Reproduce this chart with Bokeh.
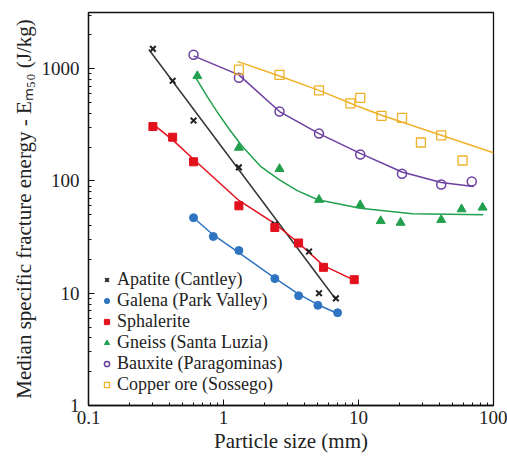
from bokeh.plotting import figure
from bokeh.models import Legend, LegendItem, FixedTicker, CustomJSTickFormatter
from bokeh.embed import file_html
from bokeh.resources import INLINE

# ---------------- data ----------------
apatite_x = [0.3, 0.42, 0.6, 1.3, 2.4, 4.3, 5.1, 6.8]
apatite_y = [1500, 780, 345, 132, 41, 23.5, 10, 9]
apatite_fit_x = [0.28, 6.8]
apatite_fit_y = [1480, 8.8]

galena_x = [0.6, 0.84, 1.3, 2.4, 3.6, 5.0, 7.0]
galena_y = [47, 32, 24, 13.5, 9.5, 7.8, 6.7]
galena_fit_x = [0.6, 0.84, 1.3, 2.4, 3.6, 5.0, 7.0]
galena_fit_y = [47, 33, 23, 13.6, 9.8, 7.9, 6.6]

sphal_x = [0.3, 0.42, 0.6, 1.3, 2.4, 3.6, 5.5, 9.3]
sphal_y = [305, 245, 148, 60, 38.5, 28, 17, 13.2]
sphal_fit_x = [0.3, 0.42, 0.6, 1.3, 2.4, 3.6, 5.5, 9.8]
sphal_fit_y = [320, 232, 156, 67, 41.6, 28, 17.6, 12.7]

gneiss_x = [0.64, 1.3, 2.6, 5.1, 10.3, 14.6, 20.5, 41, 58, 83]
gneiss_y = [860, 198, 128, 68, 61, 44, 42.5, 45, 56, 58]
gneiss_fit_x = [0.61, 0.76, 0.9, 1.1, 1.37, 1.88, 2.6, 3.52, 5.0, 10.3, 25, 84]
gneiss_fit_y = [868, 560, 410, 290, 205, 135, 102, 82, 68, 57, 51, 50]

baux_x = [0.6, 1.3, 2.6, 5.1, 10.3, 21, 41, 69]
baux_y = [1330, 830, 415, 264, 172, 116, 93, 99]
baux_fit_x = [0.6, 1.3, 2.6, 5.1, 10.3, 21, 41, 71]
baux_fit_y = [1300, 880, 415, 264, 176, 120, 97, 89]

copper_x = [1.3, 2.6, 5.1, 8.7, 10.3, 14.8, 21, 29, 41, 59]
copper_y = [980, 880, 640, 490, 550, 380, 365, 220, 255, 152]
copper_fit_x = [1.27, 2.6, 5.1, 10, 14.8, 41, 100]
copper_fit_y = [1160, 860, 640, 460, 385, 255, 178]

x_major = [0.1, 1, 10, 100]
y_major = [1, 10, 100, 1000]
x_minor = [m * 10 ** e for e in range(-1, 2) for m in range(2, 10)]
y_minor = [m * 10 ** e for e in range(0, 4) for m in range(2, 10)]

series_names = ["Apatite (Cantley)", "Galena (Park Valley)", "Sphalerite",
                "Gneiss (Santa Luzia)", "Bauxite (Paragominas)", "Copper ore (Sossego)"]
x_title = "Particle size (mm)"
y_title = "Median specific fracture energy - E\u2098\u2085\u2080 (J/kg)"

FONT = "Liberation Serif"

# ---------------- figure ----------------
p = figure(width=507, height=458, x_axis_type="log", y_axis_type="log",
           x_range=(0.1, 100), y_range=(1, 3162.28),
           output_backend="svg", toolbar_location=None,
           min_border_left=88, min_border_right=14, min_border_top=12, min_border_bottom=53)
p.xgrid.visible = False
p.ygrid.visible = False
p.outline_line_color = "#111111"
p.outline_line_width = 1.3
p.outline_line_alpha = 1
p.background_fill_color = "white"
p.border_fill_color = "white"

for ax, maj, mino in ((p.xaxis, x_major, x_minor), (p.yaxis, y_major, y_minor)):
    ax.ticker = FixedTicker(ticks=maj, minor_ticks=mino)
    ax.formatter = CustomJSTickFormatter(code="return tick.toString();")
    ax.major_tick_in = 6
    ax.major_tick_out = 0
    ax.minor_tick_in = 3
    ax.minor_tick_out = 0
    ax.axis_line_color = "#111111"
    ax.axis_line_width = 1.3
    ax.major_tick_line_color = "#111111"
    ax.minor_tick_line_color = "#111111"
    ax.major_label_text_font = FONT
    ax.major_label_text_font_size = "19px"
    ax.major_label_text_color = "#222222"
    ax.axis_label_text_font = FONT
    ax.axis_label_text_font_size = "21px"
    ax.axis_label_text_font_style = "normal"
    ax.axis_label_text_color = "#222222"

p.xaxis.axis_label = x_title
p.xaxis.major_label_standoff = 5
p.xaxis.axis_label_standoff = 2
p.yaxis.axis_label = y_title
p.yaxis.major_label_standoff = 9
p.yaxis.axis_label_standoff = 3

# ---------------- series ----------------
cols = {"ap": "#222222", "ga": "#2f74c0", "sp": "#e3101e", "gn": "#22a04e",
        "ba": "#6b3fa0", "cu": "#eeb127"}

p.line(apatite_fit_x, apatite_fit_y, line_color="#333333", line_width=1.5)
p.line(galena_fit_x, galena_fit_y, line_color=cols["ga"], line_width=1.5)
p.line(sphal_fit_x, sphal_fit_y, line_color=cols["sp"], line_width=1.5)
p.line(gneiss_fit_x, gneiss_fit_y, line_color=cols["gn"], line_width=1.5)
p.line(baux_fit_x, baux_fit_y, line_color=cols["ba"], line_width=1.5)
p.line(copper_fit_x, copper_fit_y, line_color=cols["cu"], line_width=1.5)

r_ap = p.scatter(apatite_x, apatite_y, marker="x", size=8, line_width=2, line_color=cols["ap"])
r_ga = p.scatter(galena_x, galena_y, marker="circle", size=8, fill_color=cols["ga"], line_color=cols["ga"])
r_sp = p.scatter(sphal_x, sphal_y, marker="square", size=8, fill_color=cols["sp"], line_color=cols["sp"])
r_gn = p.scatter(gneiss_x, gneiss_y, marker="triangle", size=9, fill_color=cols["gn"], line_color=cols["gn"])
r_ba = p.scatter(baux_x, baux_y, marker="circle", size=9, fill_color="white", fill_alpha=0,
                 line_color=cols["ba"], line_width=1.5)
r_cu = p.scatter(copper_x, copper_y, marker="square", size=9, fill_color="white", fill_alpha=0,
                 line_color=cols["cu"], line_width=1.3)

items = [LegendItem(label=n, renderers=[r]) for n, r in
         zip(series_names, [r_ap, r_ga, r_sp, r_gn, r_ba, r_cu])]
legend = Legend(items=items, location=(12, 10), padding=0, spacing=0,
                label_text_font=FONT, label_text_font_size="18px", label_text_color="#222222",
                label_height=21, glyph_height=21, glyph_width=13, label_standoff=4,
                border_line_alpha=0, background_fill_alpha=0, margin=0)
p.add_layout(legend)

open("out.html", "w").write(file_html(p, INLINE))
